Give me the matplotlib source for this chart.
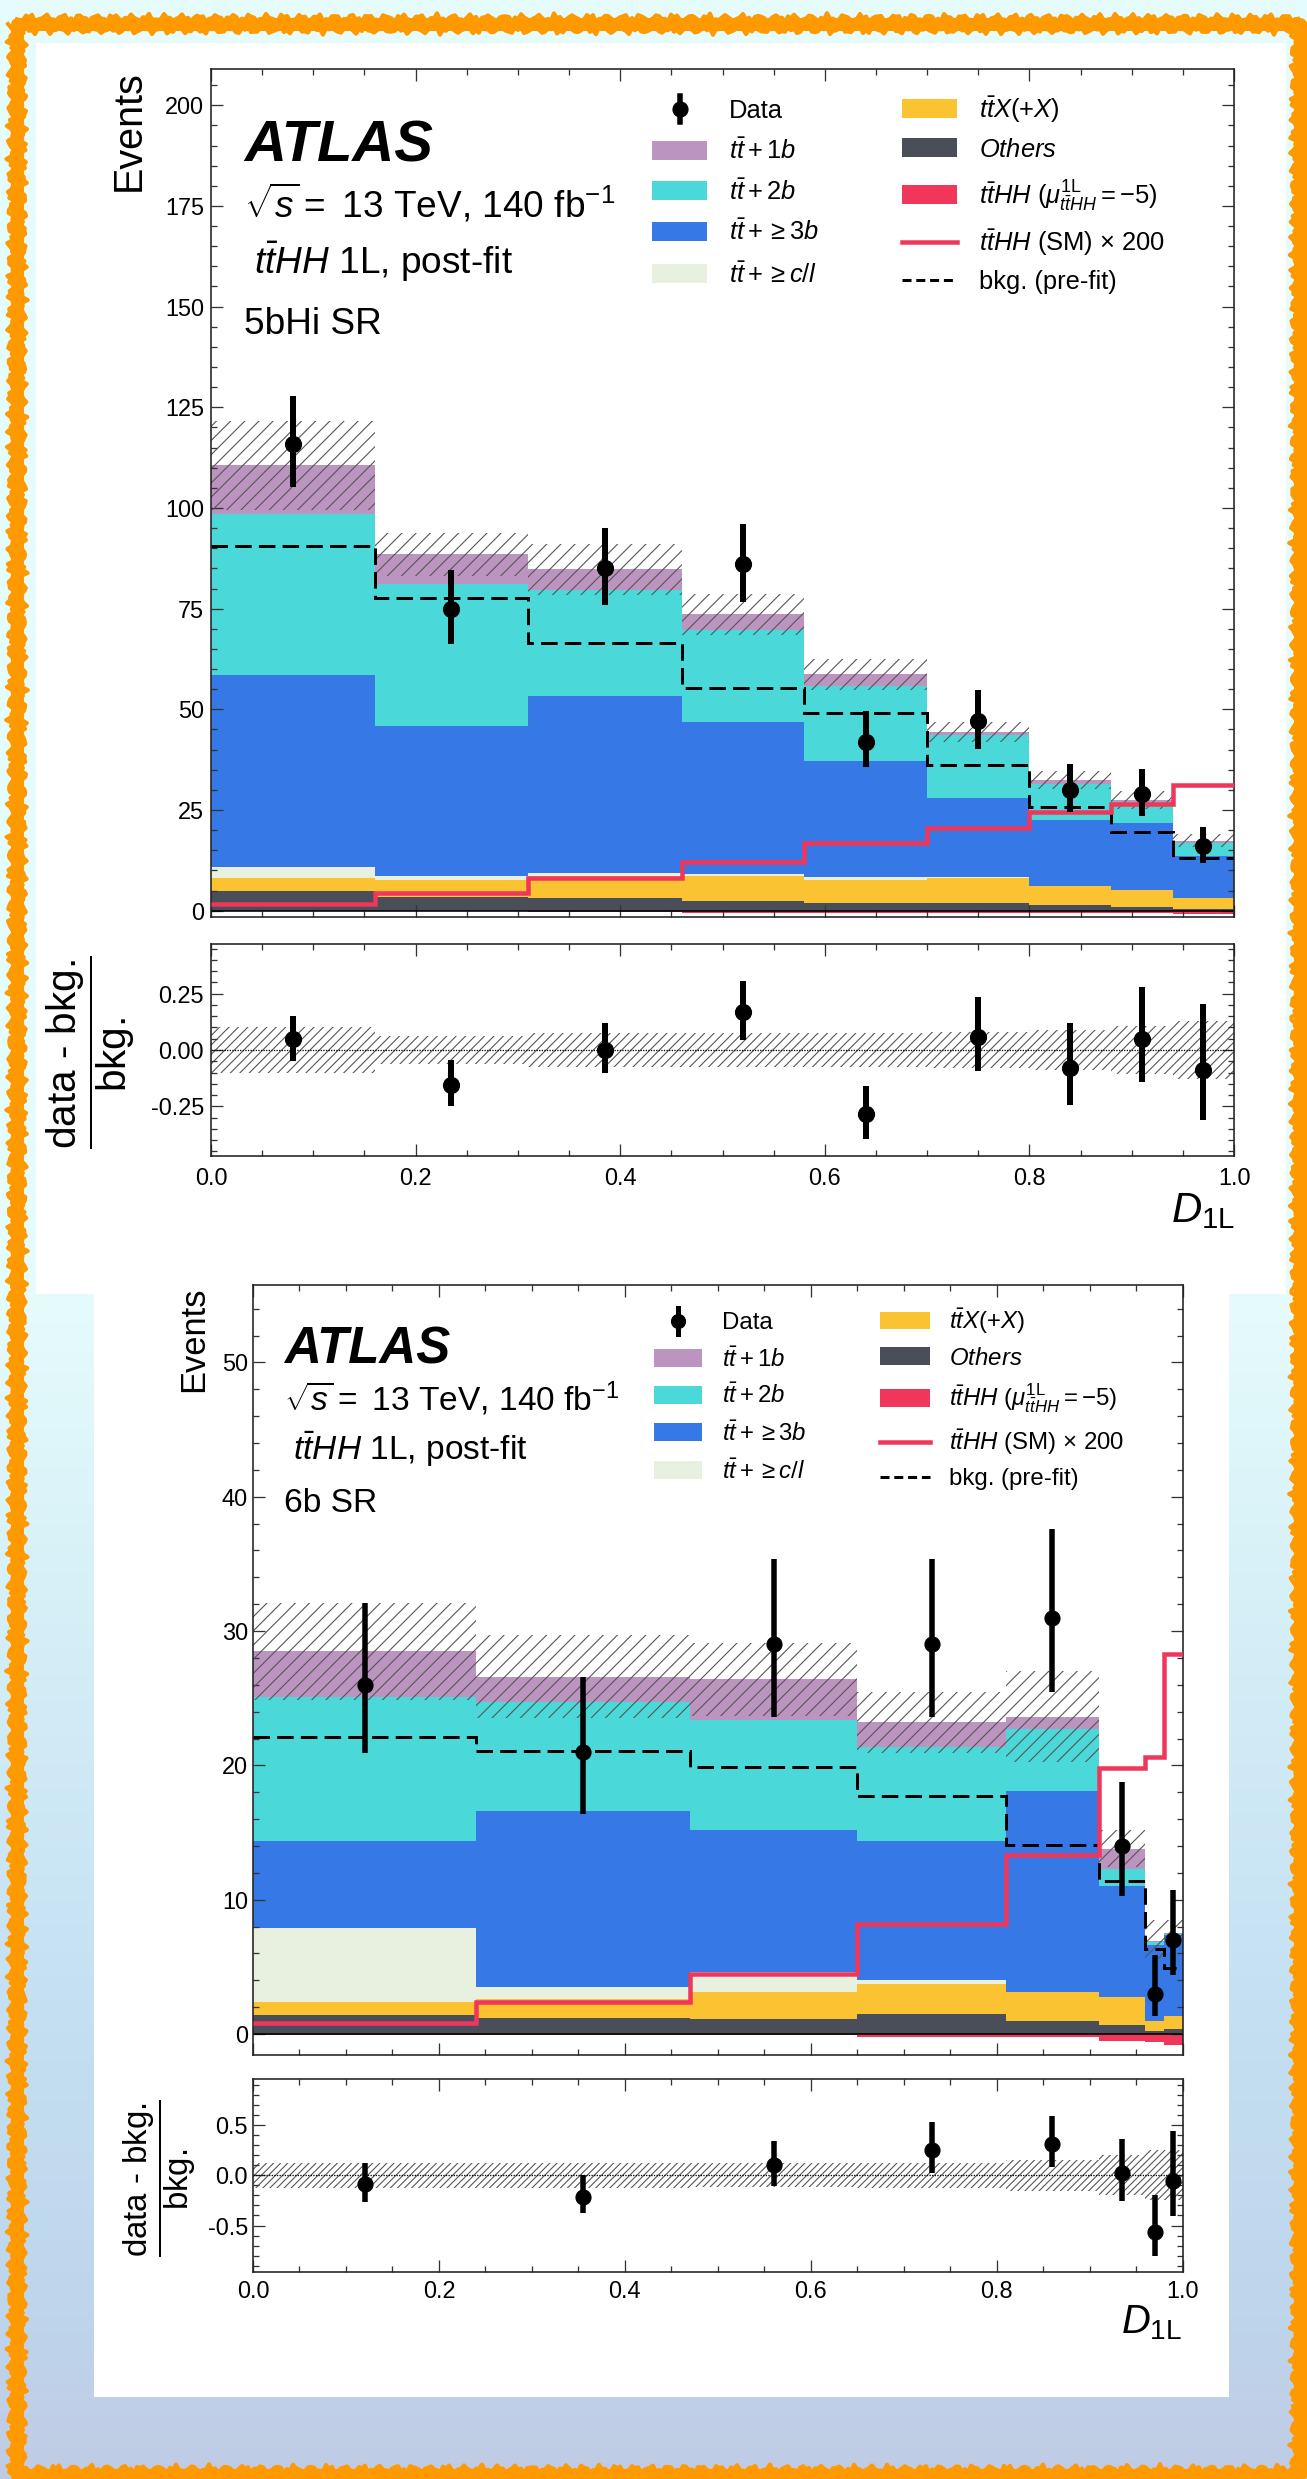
import numpy as np
import matplotlib
matplotlib.use("Agg")
import matplotlib.pyplot as plt
from matplotlib.patches import Rectangle
from matplotlib.lines import Line2D
from matplotlib.ticker import MultipleLocator

# ---------------- data: 5bHi SR ----------------
edges_5b = [0.0, 0.16, 0.31, 0.46, 0.58, 0.70, 0.80, 0.88, 0.94, 1.0]
others_5b = [5.0, 3.3, 3.2, 2.4, 1.8, 2.0, 1.3, 1.0, 0.5]
ttx_5b = [3.2, 4.3, 5.4, 6.3, 5.8, 6.2, 4.8, 4.1, 2.7]
ttcl_5b = [2.6, 1.0, 0.8, 0.5, 0.7, 0.1, 0.05, 0.05, 0.05]
tt3b_5b = [47.8, 37.2, 44.0, 37.7, 28.8, 19.7, 16.35, 16.65, 10.35]
tt2b_5b = [40.0, 35.4, 26.2, 22.9, 18.7, 15.6, 8.9, 5.2, 3.3]
tt1b_5b = [12.0, 7.3, 5.2, 3.8, 2.9, 0.7, 1.0, 0.5, 0.5]
tthh_mu_5b = [-0.1, -0.15, -0.25, -0.5, -0.5, -0.5, -0.55, -0.6, -0.9]
unc_5b = [11.0, 5.4, 6.3, 5.1, 3.8, 2.5, 2.3, 2.3, 1.6]
prefit_5b = [90.5, 77.7, 66.4, 55.4, 49.0, 36.2, 25.8, 19.6, 13.0]
sm200_5b = [1.6, 4.5, 8.2, 12.2, 16.9, 20.6, 24.4, 26.6, 31.2]
data_5b = [116, 75, 85, 86, 42, 47, 30, 29, 16]
data_up_5b = [11.7, 9.6, 10.1, 10.1, 7.7, 7.8, 6.4, 6.2, 4.9]
data_dn_5b = [10.8, 8.7, 9.2, 9.3, 6.2, 6.8, 5.4, 5.4, 4.1]
ratio_5b = [0.049, -0.153, 0.0, 0.167, -0.284, 0.059, -0.081, 0.049, -0.089]
ratio_up_5b = [0.102, 0.109, 0.121, 0.140, 0.125, 0.178, 0.200, 0.232, 0.292]
ratio_dn_5b = [0.096, 0.096, 0.104, 0.123, 0.110, 0.151, 0.163, 0.193, 0.222]
rband_5b = [0.10, 0.062, 0.077, 0.075, 0.075, 0.08, 0.09, 0.105, 0.13]

# ---------------- data: 6b SR ----------------
edges_6b = [0.0, 0.24, 0.47, 0.65, 0.81, 0.91, 0.96, 0.98, 1.0]
others_6b = [1.4, 1.2, 1.1, 1.5, 1.0, 0.7, 0.2, 0.35]
ttx_6b = [1.0, 1.4, 2.0, 2.25, 2.1, 2.05, 0.75, 1.0]
ttcl_6b = [5.5, 0.9, 1.55, 0.3, 0.02, 0.01, 0.01, 0.01]
tt3b_6b = [6.5, 13.1, 10.55, 10.35, 15.0, 8.25, 5.7, 6.0]
tt2b_6b = [10.7, 8.1, 8.2, 7.0, 4.6, 1.3, 0.22, 0.08]
tt1b_6b = [3.4, 1.9, 3.0, 1.8, 0.9, 1.5, 0.08, 0.05]
tthh_mu_6b = [-0.05, -0.05, -0.1, -0.2, -0.25, -0.5, -0.6, -0.8]
unc_6b = [3.6, 3.1, 2.7, 2.3, 3.4, 1.4, 1.5, 1.0]
prefit_6b = [22.1, 21.1, 19.9, 17.7, 14.1, 11.4, 6.3, 4.9]
sm200_6b = [0.8, 2.4, 4.5, 8.2, 13.3, 19.8, 20.6, 28.3]
data_6b = [26, 21, 29, 29, 31, 14, 3, 7]
data_up_6b = [6.1, 5.6, 6.4, 6.4, 6.6, 4.75, 2.85, 3.7]
data_dn_6b = [5.1, 4.6, 5.4, 5.4, 5.5, 3.7, 1.65, 2.6]
ratio_6b = [-0.087, -0.213, 0.1, 0.253, 0.313, 0.02, -0.563, -0.057]
ratio_up_6b = [0.214, 0.213, 0.24, 0.277, 0.28, 0.343, 0.37, 0.5]
ratio_dn_6b = [0.18, 0.167, 0.207, 0.233, 0.233, 0.273, 0.24, 0.35]
rband_6b = [0.125, 0.125, 0.12, 0.125, 0.155, 0.2, 0.25, 0.25]

# ---------------- labels ----------------
L_DATA = "Data"
L_1B = r"$t\bar{t}+1b$"
L_2B = r"$t\bar{t}+2b$"
L_3B = r"$t\bar{t}+\geq3b$"
L_CL = r"$t\bar{t}+\geq c/l$"
L_TTX = r"$t\bar{t}X(+X)$"
L_OTH = r"$Others$"
L_MU = r"$t\bar{t}HH$ $(\mu^{\mathrm{1L}}_{t\bar{t}HH}=-5)$"
L_SM = r"$t\bar{t}HH$ (SM) × 200"
L_PRE = "bkg. (pre-fit)"
T_LUMI = r"$\sqrt{s}=$ 13 TeV, 140 fb$^{-1}$"
T_PROC = r" $t\bar{t}HH$ 1L, post-fit"
T_REG_5b = "5bHi SR"
T_REG_6b = "6b SR"
X_LABEL = r"$D_{\mathrm{1L}}$"
R_LABEL = r"$\dfrac{\text{data - bkg.}}{\text{bkg.}}$"

# ---------------- style ----------------
C_1B = "#bc94c0"
C_2B = "#4bd8d8"
C_3B = "#3679e6"
C_CL = "#e8f0e0"
C_TTX = "#fbc232"
C_OTH = "#4a4e58"
C_HH = "#f0365a"
C_HATCH = "#555555"
C_ORANGE = "#ff9900"

W, H, DPI = 1307, 2479, 85


def pt(px):
    return px * 72.0 / DPI


def FX(x):
    return x / W


def FY(y):
    return 1.0 - y / H


plt.rcParams.update({
    'font.family': ['Liberation Sans', 'DejaVu Sans'],
    'mathtext.fontset': 'custom',
    'mathtext.rm': 'Liberation Sans',
    'mathtext.it': 'Liberation Sans:italic',
    'mathtext.bf': 'Liberation Sans:bold',
    'mathtext.sf': 'Liberation Sans',
    'axes.unicode_minus': False,
    'hatch.linewidth': pt(1.1),
})

fig = plt.figure(figsize=(W / DPI, H / DPI), dpi=DPI)
fig.patch.set_facecolor('#e6fcfc')

# ---------------- background decoration ----------------
bg = fig.add_axes([0, 0, 1, 1], zorder=-10)
ys = np.arange(H)
stops_y = [0, 1294, 1295, 1600, 2000, 2300, 2479]
stops_c = np.array([[230, 252, 252], [230, 252, 252], [230, 251, 252], [214, 240, 248],
                    [197, 224, 242], [190, 214, 236], [192, 203, 228]]) / 255.0
grad = np.stack([np.interp(ys, stops_y, stops_c[:, k]) for k in range(3)], axis=-1)[:, None, :]
bg.imshow(grad, extent=(0, W, H, 0), aspect='auto', zorder=0, interpolation='bilinear')
bg.set_xlim(0, W)
bg.set_ylim(H, 0)
bg.axis('off')
bg.add_patch(Rectangle((36, 43), 1250, 1251, facecolor='white', edgecolor='none', zorder=1))
bg.add_patch(Rectangle((94, 1294), 1135, 1103, facecolor='white', edgecolor='none', zorder=1))

# rough hand-drawn orange frame: a core stroke plus wobbly edge strokes
bg.add_patch(Rectangle((17, 24), 1283, 2451, facecolor='none', edgecolor=C_ORANGE,
                       lw=pt(13), zorder=2, joinstyle='round'))


def wobble(t, a, b, c):
    return a * np.sin(0.37 * t + b) + 0.6 * a * np.sin(1.13 * t + c) + 0.4 * a * np.sin(2.9 * t + b * c)


for off, amp, lw, ph in [(-6, 2.5, 4, 0.3), (6, 2.5, 4, 1.7)]:
    tx = np.arange(17, 1301, 3.0)
    bg.plot(tx, 24 + off + wobble(tx, amp, ph, 0.5), color=C_ORANGE, lw=pt(lw), zorder=2)
    bg.plot(tx, 2475 - off + wobble(tx, amp, ph + 1, 0.9), color=C_ORANGE, lw=pt(lw), zorder=2)
    ty = np.arange(24, 2476, 3.0)
    bg.plot(17 + off + wobble(ty, amp, ph + 2, 1.3), ty, color=C_ORANGE, lw=pt(lw), zorder=2)
    bg.plot(1300 - off + wobble(ty, amp, ph + 3, 0.2), ty, color=C_ORANGE, lw=pt(lw), zorder=2)


def add_axes_px(l, t, r, b):
    return fig.add_axes([FX(l), FY(b), (r - l) / W, (b - t) / H])


def style_ax(ax, ymaj, ymin, tick_px, xpad, ypad, labelx):
    ax.set_xlim(0, 1)
    ax.xaxis.set_major_locator(MultipleLocator(0.2))
    ax.xaxis.set_minor_locator(MultipleLocator(0.05))
    ax.yaxis.set_major_locator(MultipleLocator(ymaj))
    ax.yaxis.set_minor_locator(MultipleLocator(ymin))
    ax.tick_params(which='both', direction='in', top=True, right=True,
                   width=pt(1.3), color='#333333', labelsize=pt(tick_px))
    ax.tick_params(which='major', length=pt(12))
    ax.tick_params(which='minor', length=pt(6))
    ax.tick_params(axis='x', pad=pt(xpad), labelbottom=labelx)
    ax.tick_params(axis='y', pad=pt(ypad))
    for s in ax.spines.values():
        s.set_linewidth(pt(1.6))
        s.set_color('#222222')


def draw_panel(edges, layers, neg, unc, prefit, sm, data, dup, ddn,
               ratio, rup, rdn, rband, g):
    edges = np.asarray(edges, dtype=float)
    centers = 0.5 * (edges[1:] + edges[:-1])
    ax = add_axes_px(*g['main'])
    bottom = np.zeros(len(centers))
    for vals, col in layers:
        top = bottom + np.asarray(vals)
        ax.stairs(top, edges, baseline=bottom, fill=True, color=col, lw=0, zorder=1)
        bottom = top
    ax.stairs(np.asarray(neg), edges, baseline=0, fill=True, color=C_HH, lw=0, zorder=1)
    u = np.asarray(unc)
    ax.stairs(bottom + u, edges, baseline=bottom - u, fill=True, facecolor='none',
              edgecolor=C_HATCH, hatch=g['hatch'], lw=0, zorder=2)
    ax.axhline(0, color='black', lw=pt(1.6), zorder=2.5)
    ax.stairs(np.asarray(prefit), edges, baseline=None, color='black', lw=pt(3),
              linestyle=(0, (5.5, 2.4)), zorder=3)
    ax.stairs(np.asarray(sm), edges, baseline=None, color=C_HH, lw=pt(4.5), zorder=3)
    ax.errorbar(centers, data, yerr=[ddn, dup], fmt='o', color='black', ms=pt(g['ms']),
                elinewidth=pt(g['elw']), capsize=0, zorder=4)
    ax.set_ylim(*g['ylim'])
    style_ax(ax, g['ymaj'], g['ymin'], g['tick'], g['xpad'], g['ypad'], False)

    rx = add_axes_px(*g['ratio'])
    rb = np.asarray(rband)
    rx.stairs(rb, edges, baseline=-rb, fill=True, facecolor='none', edgecolor=C_HATCH,
              hatch=g['rhatch'], lw=0, zorder=1)
    rx.axhline(0, color='black', lw=pt(1.3), ls=(0, (1, 1)), zorder=2)
    rx.errorbar(centers, ratio, yerr=[rdn, rup], fmt='o', color='black', ms=pt(g['ms']),
                elinewidth=pt(g['elw']), capsize=0, zorder=4)
    rx.set_ylim(*g['rylim'])
    style_ax(rx, g['rmaj'], g['rmin'], g['tick'], g['xpad'], g['ypad'], True)
    return ax, rx


def legend_item(kind, label, cy, hx0, hx1, tx, fs_px, rect_h, ms, elw):
    cx = 0.5 * (hx0 + hx1)
    if kind == 'data':
        fig.add_artist(Line2D([FX(cx), FX(cx)], [FY(cy - 13), FY(cy + 13)], lw=pt(elw),
                              color='black', transform=fig.transFigure))
        fig.add_artist(Line2D([FX(cx)], [FY(cy)], marker='o', ms=pt(ms), color='black',
                              transform=fig.transFigure))
    elif kind == 'line':
        fig.add_artist(Line2D([FX(hx0), FX(hx1)], [FY(cy), FY(cy)], lw=pt(4.5),
                              color=C_HH, transform=fig.transFigure))
    elif kind == 'dash':
        fig.add_artist(Line2D([FX(hx0), FX(hx1)], [FY(cy), FY(cy)], lw=pt(3),
                              color='black', ls=(0, (3, 1.6)), transform=fig.transFigure))
    else:
        fig.add_artist(Rectangle((FX(hx0), FY(cy + rect_h / 2)), (hx1 - hx0) / W, rect_h / H,
                                 facecolor=kind, edgecolor='none', transform=fig.transFigure))
    fig.text(FX(tx), FY(cy + 0.36 * fs_px), label, fontsize=pt(fs_px), va='baseline', ha='left')


# ---------------- panel 1: 5bHi SR ----------------
g1 = dict(main=(211, 69, 1234, 917), ratio=(211, 944, 1234, 1156),
          ylim=(-1.56, 209), ymaj=25, ymin=5, rylim=(-0.47, 0.47), rmaj=0.25, rmin=0.05,
          tick=23.5, xpad=11, ypad=7, ms=16, elw=6, hatch='//', rhatch='///')
layers_5b = [(others_5b, C_OTH), (ttx_5b, C_TTX), (ttcl_5b, C_CL), (tt3b_5b, C_3B),
             (tt2b_5b, C_2B), (tt1b_5b, C_1B)]
draw_panel(edges_5b, layers_5b, tthh_mu_5b, unc_5b, prefit_5b, sm200_5b, data_5b,
           data_up_5b, data_dn_5b, ratio_5b, ratio_up_5b, ratio_dn_5b, rband_5b, g1)

fig.text(FX(244), FY(161), "ATLAS", fontsize=pt(58), fontweight='bold', fontstyle='italic',
         va='baseline')
fig.text(FX(244), FY(218), T_LUMI, fontsize=pt(37), va='baseline')
fig.text(FX(244), FY(274), T_PROC, fontsize=pt(37), va='baseline')
fig.text(FX(244), FY(334), T_REG_5b, fontsize=pt(37), va='baseline')
fig.text(FX(129), FY(70), "Events", rotation=90, ha='center', va='top', fontsize=pt(39.5))
fig.text(FX(91), FY(1052), R_LABEL, rotation=90, ha='center', va='center', fontsize=pt(40.5))
fig.text(FX(1235), FY(1222), X_LABEL, ha='right', va='baseline', fontsize=pt(42))

leg1 = [('data', L_DATA, 109, 652, 707, 729), (C_1B, L_1B, 150, 652, 707, 729),
        (C_2B, L_2B, 190.5, 652, 707, 729), (C_3B, L_3B, 231, 652, 707, 729),
        (C_CL, L_CL, 273.5, 652, 707, 729),
        (C_TTX, L_TTX, 108.5, 902, 957, 979), (C_OTH, L_OTH, 147.5, 902, 957, 979),
        (C_HH, L_MU, 194.5, 902, 957, 979), ('line', L_SM, 241.7, 902, 957, 979),
        ('dash', L_PRE, 280, 902, 957, 979)]
for kind, lab, cy, hx0, hx1, tx in leg1:
    legend_item(kind, lab, cy, hx0, hx1, tx, 25.5, 19, 15, 5.5)

# ---------------- panel 2: 6b SR ----------------
g2 = dict(main=(253, 1284.5, 1182.6, 2055), ratio=(253, 2079, 1182.6, 2271.7),
          ylim=(-1.56, 55.8), ymaj=10, ymin=2, rylim=(-0.96, 0.96), rmaj=0.5, rmin=0.1,
          tick=23.5, xpad=8, ypad=5, ms=15, elw=5.5, hatch='//', rhatch='////')
layers_6b = [(others_6b, C_OTH), (ttx_6b, C_TTX), (ttcl_6b, C_CL), (tt3b_6b, C_3B),
             (tt2b_6b, C_2B), (tt1b_6b, C_1B)]
draw_panel(edges_6b, layers_6b, tthh_mu_6b, unc_6b, prefit_6b, sm200_6b, data_6b,
           data_up_6b, data_dn_6b, ratio_6b, ratio_up_6b, ratio_dn_6b, rband_6b, g2)

fig.text(FX(284), FY(1363), "ATLAS", fontsize=pt(51), fontweight='bold', fontstyle='italic',
         va='baseline')
fig.text(FX(284), FY(1411), T_LUMI, fontsize=pt(33.5), va='baseline')
fig.text(FX(284), FY(1460), T_PROC, fontsize=pt(33.5), va='baseline')
fig.text(FX(284), FY(1512), T_REG_6b, fontsize=pt(33.5), va='baseline')
fig.text(FX(193.5), FY(1287), "Events", rotation=90, ha='center', va='top', fontsize=pt(34.5))
fig.text(FX(160), FY(2178), R_LABEL, rotation=90, ha='center', va='center', fontsize=pt(33))
fig.text(FX(1182), FY(2333), X_LABEL, ha='right', va='baseline', fontsize=pt(40))

leg2 = [('data', L_DATA, 1320.7, 653.5, 702.3, 722.4), (C_1B, L_1B, 1358, 653.5, 702.3, 722.4),
        (C_2B, L_2B, 1394.7, 653.5, 702.3, 722.4), (C_3B, L_3B, 1432, 653.5, 702.3, 722.4),
        (C_CL, L_CL, 1470, 653.5, 702.3, 722.4),
        (C_TTX, L_TTX, 1320.5, 880, 930, 949), (C_OTH, L_OTH, 1356, 880, 930, 949),
        (C_HH, L_MU, 1398, 880, 930, 949), ('line', L_SM, 1441.7, 880, 930, 949),
        ('dash', L_PRE, 1476.7, 880, 930, 949)]
for kind, lab, cy, hx0, hx1, tx in leg2:
    legend_item(kind, lab, cy, hx0, hx1, tx, 24, 17.7, 14, 5)

fig.savefig("out.png", dpi=DPI, facecolor=fig.get_facecolor())
